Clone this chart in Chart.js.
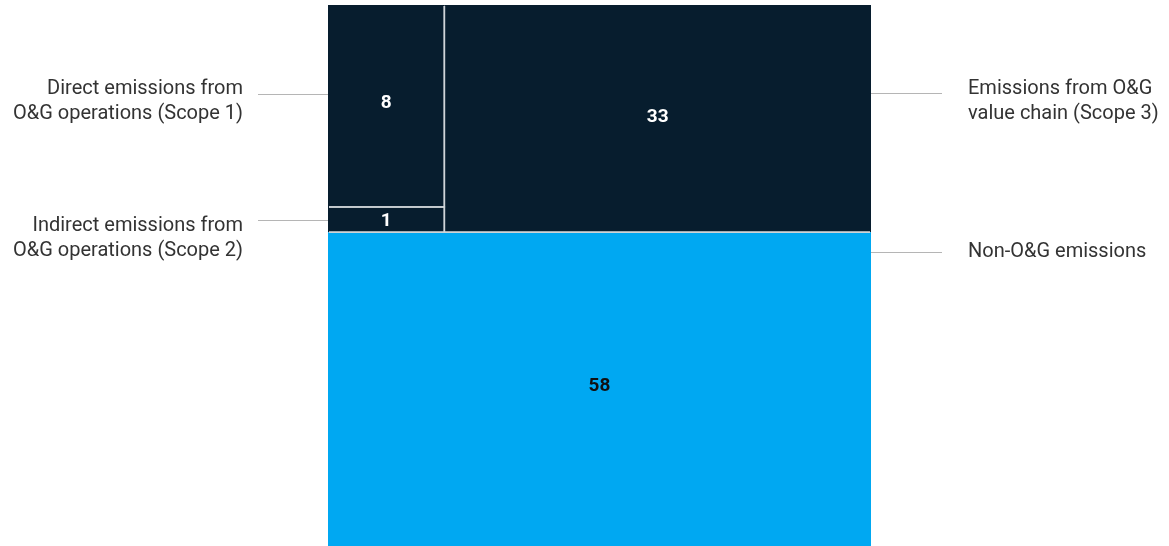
<!DOCTYPE html>
<html>
<head>
<meta charset="utf-8">
<script src="https://cdn.jsdelivr.net/npm/chart.js@4"></script>
<style>
  html, body { margin: 0; padding: 0; background: #fff; }
  #wrap { width: 1169px; height: 546px; position: relative; }
</style>
</head>
<body>
<div id="wrap"><canvas id="treeChart"></canvas></div>
<script>
// data
const categories = [
  ['Direct emissions from', 'O&G operations (Scope 1)'],
  ['Indirect emissions from', 'O&G operations (Scope 2)'],
  ['Emissions from O&G', 'value chain (Scope 3)'],
  ['Non-O&G emissions']
];
const shares = [8, 1, 33, 58];
const fillColors = ['#071d2e', '#071d2e', '#071d2e', '#00a8f2'];
const valueColors = ['#ffffff', '#ffffff', '#ffffff', '#111111'];

// layout of the treemap in data units (0-100 on both axes)
function buildRects() {
  const og = shares[0] + shares[1] + shares[2];
  const topH = og;                           // height of the O&G row
  const leftW = (shares[0] + shares[1]) / og * 100;
  const s1H = shares[0] / (shares[0] + shares[1]) * topH;
  return [
    { x0: 0, x1: leftW, y0: 0, y1: s1H },
    { x0: 0, x1: leftW, y0: s1H, y1: topH },
    { x0: leftW, x1: 100, y0: 0, y1: topH },
    { x0: 0, x1: 100, y0: topH, y1: 100 }
  ];
}
const rects = buildRects();

// side labels: side, leader offset from rect top in px (null = centre), first text line offset from leader
const labelSide = ['left', 'left', 'right', 'right'];
const leaderOffset = [89, null, 88, 20];
const textOffset = [-6, 5, -5, -1];
const valueShift = [-3, 2, -1, -3];

const treemapPlugin = {
  id: 'treemap',
  afterDatasetsDraw(chart) {
    const { ctx, chartArea, scales: { x, y } } = chart;
    const boxes = rects.map(r => ({
      left: x.getPixelForValue(r.x0),
      right: x.getPixelForValue(r.x1),
      top: y.getPixelForValue(r.y0),
      bottom: y.getPixelForValue(r.y1)
    }));
    ctx.save();
    boxes.forEach((b, i) => {
      ctx.fillStyle = fillColors[i];
      ctx.fillRect(b.left, b.top, b.right - b.left, b.bottom - b.top);
    });
    // inner dividers only
    ctx.save();
    ctx.beginPath();
    ctx.rect(chartArea.left + 1, chartArea.top + 1, chartArea.right - chartArea.left - 2, chartArea.bottom - chartArea.top - 2);
    ctx.clip();
    ctx.strokeStyle = '#cfd4d8';
    ctx.lineWidth = 1.5;
    boxes.forEach(b => ctx.strokeRect(b.left, b.top, b.right - b.left, b.bottom - b.top));
    ctx.restore();

    boxes.forEach((b, i) => {
      // value
      ctx.fillStyle = valueColors[i];
      ctx.font = 'bold 19px Roboto';
      ctx.textAlign = 'center';
      ctx.textBaseline = 'middle';
      ctx.fillText(String(shares[i]), (b.left + b.right) / 2, (b.top + b.bottom) / 2 + valueShift[i]);

      // leader + label
      const ly = Math.round(leaderOffset[i] === null ? (b.top + b.bottom) / 2 : b.top + leaderOffset[i]) + 0.5;
      ctx.strokeStyle = '#b5b5b5';
      ctx.lineWidth = 1;
      ctx.beginPath();
      ctx.font = '20px Roboto';
      ctx.fillStyle = '#333333';
      ctx.textBaseline = 'middle';
      const lines = categories[i];
      const lh = 25;
      const startY = ly + textOffset[i];
      if (labelSide[i] === 'left') {
        ctx.moveTo(258, ly);
        ctx.lineTo(chartArea.left, ly);
        ctx.stroke();
        ctx.textAlign = 'right';
        lines.forEach((t, k) => ctx.fillText(t, 243, startY + k * lh));
      } else {
        ctx.moveTo(chartArea.right, ly);
        ctx.lineTo(942, ly);
        ctx.stroke();
        ctx.textAlign = 'left';
        lines.forEach((t, k) => ctx.fillText(t, 968, startY + k * lh));
      }
    });
    ctx.restore();
  }
};

const ctx = document.getElementById('treeChart').getContext('2d');
new Chart(ctx, {
  type: 'scatter',
  data: { datasets: [{ data: [], pointRadius: 0 }] },
  options: {
    responsive: true,
    maintainAspectRatio: false,
    animation: false,
    layout: { padding: { left: 328, right: 298, top: 5, bottom: 0 } },
    scales: {
      x: { type: 'linear', min: 0, max: 100, display: false },
      y: { type: 'linear', min: 0, max: 100, reverse: true, display: false }
    },
    plugins: { legend: { display: false }, tooltip: { enabled: false } }
  },
  plugins: [treemapPlugin]
});
</script>
</body>
</html>
